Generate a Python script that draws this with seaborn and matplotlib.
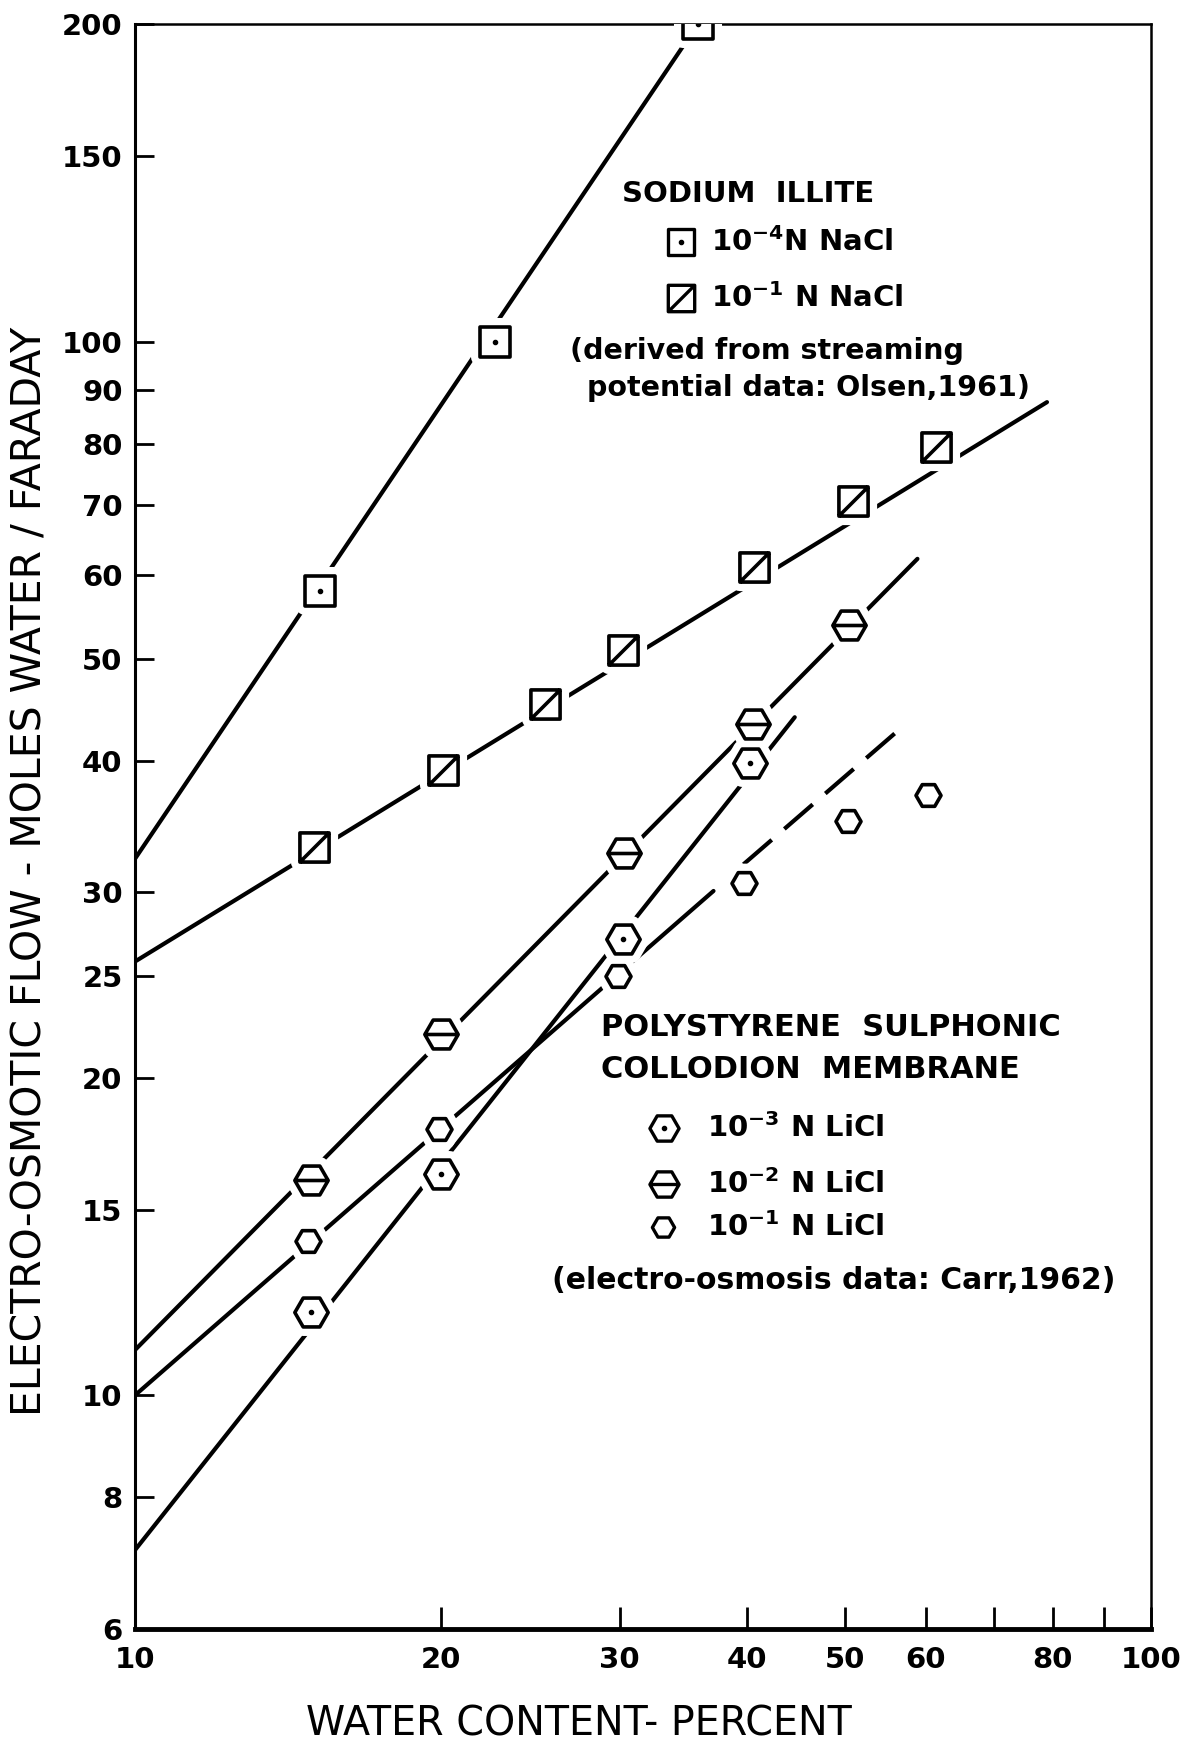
import numpy as np
import matplotlib
matplotlib.use("Agg")
import matplotlib.pyplot as plt
from matplotlib.path import Path
from matplotlib.ticker import FixedLocator, FixedFormatter, NullLocator
import seaborn as sns

# ---- data -------------------------------------------------------------
# Sodium illite, 10^-4 N NaCl
naCl4_x = [15.2, 22.6, 35.8]
naCl4_y = [58.0, 100.0, 200.0]
naCl4_fit_x = [10.0, 35.8]
naCl4_fit_y = [32.3, 200.0]

# Sodium illite, 10^-1 N NaCl
naCl1_x = [15.0, 20.1, 25.3, 30.2, 40.7, 50.9, 61.4]
naCl1_y = [33.1, 39.2, 45.3, 51.0, 61.1, 70.6, 79.5]
naCl1_fit_x = [10.0, 79.0]
naCl1_fit_y = [25.8, 87.6]

# Polystyrene sulphonic collodion membrane, 10^-3 N LiCl
liCl3_x = [14.9, 20.0, 30.2, 40.3]
liCl3_y = [12.0, 16.2, 27.1, 39.8]
liCl3_fit_x = [10.0, 44.6]
liCl3_fit_y = [7.13, 44.0]

# 10^-2 N LiCl
liCl2_x = [14.9, 20.0, 30.3, 40.6, 50.4]
liCl2_y = [16.0, 22.0, 32.7, 43.4, 53.8]
liCl2_fit_x = [10.0, 58.9]
liCl2_fit_y = [11.04, 62.2]

# 10^-1 N LiCl
liCl1_x = [14.8, 19.9, 29.9, 39.8, 50.3, 60.3]
liCl1_y = [14.0, 17.9, 25.0, 30.6, 35.1, 37.1]
liCl1_fit_x = [10.0, 37.1]
liCl1_fit_y = [10.0, 30.1]
liCl1_ext_x = [39.7, 56.0]
liCl1_ext_y = [31.9, 42.5]

x_ticks = [10, 20, 30, 40, 50, 60, 70, 80, 90, 100]
x_labels = ["10", "20", "30", "40", "50", "60", "", "80", "", "100"]
y_ticks = [6, 8, 10, 15, 20, 25, 30, 40, 50, 60, 70, 80, 90, 100, 150, 200]
y_labels = [str(v) for v in y_ticks]

# ---- marker shapes ------------------------------------------------------
M, L, C = Path.MOVETO, Path.LINETO, Path.CLOSEPOLY
square = Path([(-1, -1), (1, -1), (1, 1), (-1, 1), (-1, -1)], [M, L, L, L, C])
square_slash = Path([(-1, -1), (1, -1), (1, 1), (-1, 1), (-1, -1), (-1, -1), (1, 1)],
                    [M, L, L, L, C, M, L])
ang = np.deg2rad(np.arange(0, 360, 60))
hex_pts = [(np.cos(a), np.sin(a)) for a in ang]
hexagon = Path(hex_pts + [hex_pts[0]], [M] + [L] * 5 + [C])
hex_bar = Path(hex_pts + [hex_pts[0], (-1, 0), (1, 0)], [M] + [L] * 5 + [C, M, L])

# ---- figure -------------------------------------------------------------
sns.set_theme(style="ticks")
plt.rcParams["font.family"] = ["DejaVu Sans"]
plt.rcParams["mathtext.default"] = "regular"

fig = plt.figure(figsize=(11.91, 17.42), dpi=100)
ax = fig.add_axes([0.1134, 0.0649, 0.853, 0.9211])
ax.set_xscale("log")
ax.set_yscale("log")
ax.set_xlim(10, 100)
ax.set_ylim(6, 200)

LW = 3.0
line_kw = dict(color="black", linewidth=LW, legend=False, estimator=None, sort=False)

# fitted lines
for fx_, fy_ in [(naCl4_fit_x, naCl4_fit_y), (naCl1_fit_x, naCl1_fit_y),
                 (liCl3_fit_x, liCl3_fit_y), (liCl2_fit_x, liCl2_fit_y),
                 (liCl1_fit_x, liCl1_fit_y)]:
    sns.lineplot(x=fx_, y=fy_, ax=ax, zorder=2, **line_kw)
sns.lineplot(x=liCl1_ext_x, y=liCl1_ext_y, ax=ax, zorder=2,
             dashes=False, **line_kw)
ax.lines[-1].set_linestyle((0, (9, 4)))

series = [
    (naCl4_x, naCl4_y, square, 21, True),
    (naCl1_x, naCl1_y, square_slash, 21, False),
    (liCl3_x, liCl3_y, hexagon, 24, True),
    (liCl2_x, liCl2_y, hex_bar, 24, False),
    (liCl1_x, liCl1_y, hexagon, 18, False),
]

# white halo keeps the fitted lines clear of each symbol
for sx, sy, mk, ms, dot in series:
    ax.plot(sx, sy, linestyle="none", marker=mk, markersize=ms,
            markerfacecolor="white", markeredgecolor="white",
            markeredgewidth=13, zorder=3)
for sx, sy, mk, ms, dot in series:
    ax.plot(sx, sy, linestyle="none", marker=mk, markersize=ms,
            markerfacecolor="white", markeredgecolor="black",
            markeredgewidth=2.6, zorder=4)
    if dot:
        ax.plot(sx, sy, linestyle="none", marker="o", markersize=3,
                markerfacecolor="black", markeredgecolor="black", zorder=5)

# ---- axes styling -------------------------------------------------------
for side, w in [("left", 2.2), ("bottom", 3.5), ("top", 1.8), ("right", 1.8)]:
    ax.spines[side].set_visible(True)
    ax.spines[side].set_linewidth(w)
    ax.spines[side].set_color("black")

ax.xaxis.set_major_locator(FixedLocator(x_ticks))
ax.xaxis.set_major_formatter(FixedFormatter(x_labels))
ax.xaxis.set_minor_locator(NullLocator())
ax.yaxis.set_major_locator(FixedLocator(y_ticks))
ax.yaxis.set_major_formatter(FixedFormatter(y_labels))
ax.yaxis.set_minor_locator(NullLocator())
ax.tick_params(axis="x", direction="in", length=16, width=2, pad=12,
               labelsize=21, colors="black")
ax.tick_params(axis="y", direction="in", length=14, width=2, pad=9,
               labelsize=21, colors="black")
for t in ax.get_yticklabels() + ax.get_xticklabels():
    t.set_fontweight("bold")

ax.set_xlabel("WATER CONTENT- PERCENT", fontsize=28.5, color="black")
ax.xaxis.set_label_coords(0.437, -0.047)
ax.set_ylabel("ELECTRO-OSMOTIC FLOW - MOLES WATER / FARADAY", fontsize=29.5,
              color="black")
ax.yaxis.set_label_coords(-0.083, 0.472)

# ---- key ----------------------------------------------------------------
def fx(px):
    return (px - 135.0) / 1016.0


def fy(py):
    return 1.0 - (py - 24.4) / 1604.6


txt = dict(transform=ax.transAxes, fontweight="bold", color="black",
           va="center", ha="left")
ax.text(fx(622), fy(194), "SODIUM  ILLITE", fontsize=21, **txt)
ax.text(fx(711), fy(242), r"10$^{-4}$N NaCl", fontsize=21, **txt)
ax.text(fx(711), fy(298), r"10$^{-1}$ N NaCl", fontsize=21, **txt)
ax.text(fx(570), fy(351), "(derived from streaming", fontsize=20.5, **txt)
ax.text(fx(587), fy(388), "potential data: Olsen,1961)", fontsize=20.5, **txt)
ax.text(fx(601), fy(1028), "POLYSTYRENE  SULPHONIC", fontsize=22, **txt)
ax.text(fx(601), fy(1070), "COLLODION  MEMBRANE", fontsize=22, **txt)
ax.text(fx(707), fy(1128), r"10$^{-3}$ N LiCl", fontsize=21, **txt)
ax.text(fx(707), fy(1184), r"10$^{-2}$ N LiCl", fontsize=21, **txt)
ax.text(fx(707), fy(1227), r"10$^{-1}$ N LiCl", fontsize=21, **txt)
ax.text(fx(552), fy(1281), "(electro-osmosis data: Carr,1962)", fontsize=21.5, **txt)

key = [(681, 242, square, 19, True), (681, 298, square_slash, 19, False),
       (664, 1128, hexagon, 21, True), (664, 1184, hex_bar, 21, False),
       (663, 1227, hexagon, 16, False)]
for px, py, mk, ms, dot in key:
    ax.plot([fx(px)], [fy(py)], transform=ax.transAxes, linestyle="none",
            marker=mk, markersize=ms, markerfacecolor="white",
            markeredgecolor="black", markeredgewidth=2.4, zorder=4)
    if dot:
        ax.plot([fx(px)], [fy(py)], transform=ax.transAxes, linestyle="none",
                marker="o", markersize=3, color="black", zorder=5)

fig.savefig("out.png", dpi=100, facecolor="white")
